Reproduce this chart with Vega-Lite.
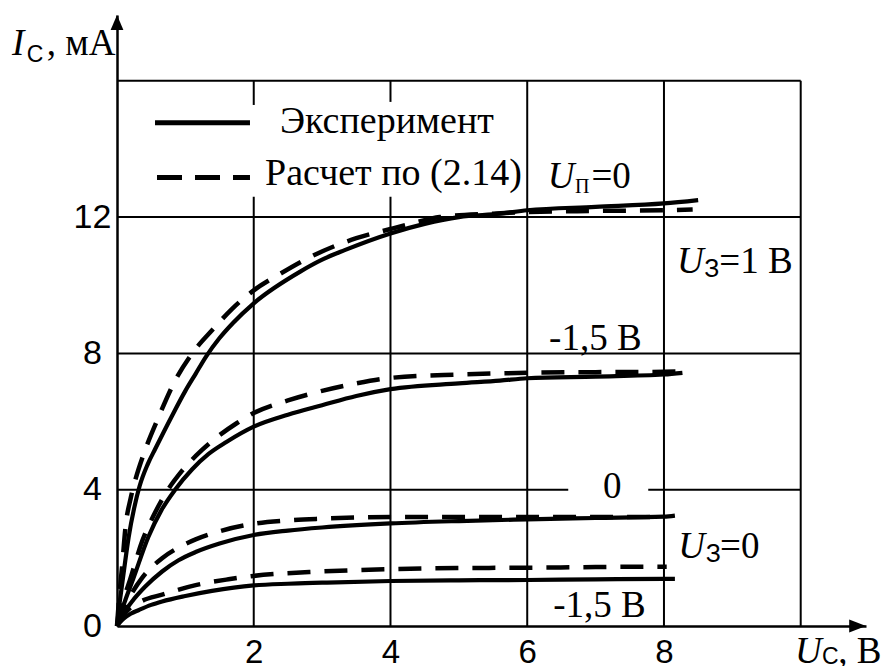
{
  "$schema": "https://vega.github.io/schema/vega-lite/v6.json",
  "width": 749,
  "height": 611,
  "autosize": {"type": "none"},
  "padding": {"left": 117, "top": 15, "right": 15, "bottom": 40},
  "background": "white",
  "config": {"view": {"stroke": null}},
  "datasets": {
    "grid": [
      {"x": 2, "y": 16, "x2": 2, "y2": 15.29},
      {"x": 2, "y": 12.6, "x2": 2, "y2": 0},
      {"x": 4, "y": 16, "x2": 4, "y2": 15.38},
      {"x": 4, "y": 12.6, "x2": 4, "y2": 0},
      {"x": 6, "y": 16, "x2": 6, "y2": 0},
      {"x": 8, "y": 16, "x2": 8, "y2": 0},
      {"x": 10, "y": 16, "x2": 10, "y2": 0},
      {"x": 0, "y": 16, "x2": 10, "y2": 16},
      {"x": 0, "y": 12, "x2": 10, "y2": 12},
      {"x": 0, "y": 8, "x2": 10, "y2": 8},
      {"x": 0, "y": 4, "x2": 6.6, "y2": 4},
      {"x": 7.77, "y": 4, "x2": 10, "y2": 4}
    ],
    "curves": [
      {"curve": "exp_1", "kind": "exp", "x": 0, "y": 0},
      {"curve": "exp_1", "kind": "exp", "x": 0.03, "y": 0.55},
      {"curve": "exp_1", "kind": "exp", "x": 0.07, "y": 1.15},
      {"curve": "exp_1", "kind": "exp", "x": 0.12, "y": 1.9},
      {"curve": "exp_1", "kind": "exp", "x": 0.17, "y": 2.6},
      {"curve": "exp_1", "kind": "exp", "x": 0.25, "y": 3.45},
      {"curve": "exp_1", "kind": "exp", "x": 0.33, "y": 4.1},
      {"curve": "exp_1", "kind": "exp", "x": 0.45, "y": 4.75},
      {"curve": "exp_1", "kind": "exp", "x": 0.56, "y": 5.2},
      {"curve": "exp_1", "kind": "exp", "x": 0.8, "y": 6.15},
      {"curve": "exp_1", "kind": "exp", "x": 1.0, "y": 6.9},
      {"curve": "exp_1", "kind": "exp", "x": 1.15, "y": 7.4},
      {"curve": "exp_1", "kind": "exp", "x": 1.3, "y": 7.9},
      {"curve": "exp_1", "kind": "exp", "x": 1.5, "y": 8.45},
      {"curve": "exp_1", "kind": "exp", "x": 1.7, "y": 8.9},
      {"curve": "exp_1", "kind": "exp", "x": 2.0, "y": 9.47},
      {"curve": "exp_1", "kind": "exp", "x": 2.68, "y": 10.4},
      {"curve": "exp_1", "kind": "exp", "x": 3.0, "y": 10.75},
      {"curve": "exp_1", "kind": "exp", "x": 3.33, "y": 11.03},
      {"curve": "exp_1", "kind": "exp", "x": 4.0, "y": 11.52},
      {"curve": "exp_1", "kind": "exp", "x": 4.5, "y": 11.8},
      {"curve": "exp_1", "kind": "exp", "x": 5.0, "y": 12.0},
      {"curve": "exp_1", "kind": "exp", "x": 5.6, "y": 12.1},
      {"curve": "exp_1", "kind": "exp", "x": 6.0, "y": 12.2},
      {"curve": "exp_1", "kind": "exp", "x": 7.0, "y": 12.3},
      {"curve": "exp_1", "kind": "exp", "x": 8.0, "y": 12.4},
      {"curve": "exp_1", "kind": "exp", "x": 8.5, "y": 12.5},

      {"curve": "calc_1", "kind": "calc", "x": 0, "y": 0},
      {"curve": "calc_1", "kind": "calc", "x": 0.03, "y": 0.8},
      {"curve": "calc_1", "kind": "calc", "x": 0.07, "y": 1.65},
      {"curve": "calc_1", "kind": "calc", "x": 0.13, "y": 3.0},
      {"curve": "calc_1", "kind": "calc", "x": 0.2, "y": 3.75},
      {"curve": "calc_1", "kind": "calc", "x": 0.27, "y": 4.3},
      {"curve": "calc_1", "kind": "calc", "x": 0.4, "y": 5.1},
      {"curve": "calc_1", "kind": "calc", "x": 0.61, "y": 6.14},
      {"curve": "calc_1", "kind": "calc", "x": 0.85, "y": 7.2},
      {"curve": "calc_1", "kind": "calc", "x": 1.1, "y": 8.0},
      {"curve": "calc_1", "kind": "calc", "x": 1.4, "y": 8.7},
      {"curve": "calc_1", "kind": "calc", "x": 1.68, "y": 9.3},
      {"curve": "calc_1", "kind": "calc", "x": 2.0, "y": 9.85},
      {"curve": "calc_1", "kind": "calc", "x": 2.4, "y": 10.35},
      {"curve": "calc_1", "kind": "calc", "x": 2.82, "y": 10.82},
      {"curve": "calc_1", "kind": "calc", "x": 3.5, "y": 11.38},
      {"curve": "calc_1", "kind": "calc", "x": 4.0, "y": 11.65},
      {"curve": "calc_1", "kind": "calc", "x": 4.33, "y": 11.82},
      {"curve": "calc_1", "kind": "calc", "x": 4.72, "y": 12.0},
      {"curve": "calc_1", "kind": "calc", "x": 5.5, "y": 12.1},
      {"curve": "calc_1", "kind": "calc", "x": 6.0, "y": 12.15},
      {"curve": "calc_1", "kind": "calc", "x": 7.0, "y": 12.18},
      {"curve": "calc_1", "kind": "calc", "x": 8.0, "y": 12.2},
      {"curve": "calc_1", "kind": "calc", "x": 8.42, "y": 12.22},

      {"curve": "exp_2", "kind": "exp", "x": 0, "y": 0},
      {"curve": "exp_2", "kind": "exp", "x": 0.05, "y": 0.35},
      {"curve": "exp_2", "kind": "exp", "x": 0.12, "y": 0.75},
      {"curve": "exp_2", "kind": "exp", "x": 0.24, "y": 1.4},
      {"curve": "exp_2", "kind": "exp", "x": 0.46, "y": 2.62},
      {"curve": "exp_2", "kind": "exp", "x": 0.65, "y": 3.4},
      {"curve": "exp_2", "kind": "exp", "x": 0.85, "y": 4.0},
      {"curve": "exp_2", "kind": "exp", "x": 1.1, "y": 4.6},
      {"curve": "exp_2", "kind": "exp", "x": 1.34, "y": 5.05},
      {"curve": "exp_2", "kind": "exp", "x": 1.6, "y": 5.4},
      {"curve": "exp_2", "kind": "exp", "x": 2.0, "y": 5.85},
      {"curve": "exp_2", "kind": "exp", "x": 2.5, "y": 6.2},
      {"curve": "exp_2", "kind": "exp", "x": 3.0, "y": 6.48},
      {"curve": "exp_2", "kind": "exp", "x": 3.5, "y": 6.75},
      {"curve": "exp_2", "kind": "exp", "x": 4.0, "y": 6.95},
      {"curve": "exp_2", "kind": "exp", "x": 5.0, "y": 7.12},
      {"curve": "exp_2", "kind": "exp", "x": 5.6, "y": 7.2},
      {"curve": "exp_2", "kind": "exp", "x": 6.0, "y": 7.27},
      {"curve": "exp_2", "kind": "exp", "x": 7.0, "y": 7.32},
      {"curve": "exp_2", "kind": "exp", "x": 8.0, "y": 7.38},
      {"curve": "exp_2", "kind": "exp", "x": 8.27, "y": 7.43},

      {"curve": "calc_2", "kind": "calc", "x": 0, "y": 0},
      {"curve": "calc_2", "kind": "calc", "x": 0.05, "y": 0.4},
      {"curve": "calc_2", "kind": "calc", "x": 0.1, "y": 0.8},
      {"curve": "calc_2", "kind": "calc", "x": 0.19, "y": 1.35},
      {"curve": "calc_2", "kind": "calc", "x": 0.37, "y": 2.5},
      {"curve": "calc_2", "kind": "calc", "x": 0.55, "y": 3.3},
      {"curve": "calc_2", "kind": "calc", "x": 0.73, "y": 3.95},
      {"curve": "calc_2", "kind": "calc", "x": 0.95, "y": 4.55},
      {"curve": "calc_2", "kind": "calc", "x": 1.24, "y": 5.16},
      {"curve": "calc_2", "kind": "calc", "x": 1.5, "y": 5.6},
      {"curve": "calc_2", "kind": "calc", "x": 1.75, "y": 5.95},
      {"curve": "calc_2", "kind": "calc", "x": 2.0, "y": 6.25},
      {"curve": "calc_2", "kind": "calc", "x": 2.5, "y": 6.62},
      {"curve": "calc_2", "kind": "calc", "x": 3.0, "y": 6.9},
      {"curve": "calc_2", "kind": "calc", "x": 3.5, "y": 7.12},
      {"curve": "calc_2", "kind": "calc", "x": 4.0, "y": 7.28},
      {"curve": "calc_2", "kind": "calc", "x": 5.0, "y": 7.38},
      {"curve": "calc_2", "kind": "calc", "x": 6.0, "y": 7.43},
      {"curve": "calc_2", "kind": "calc", "x": 7.0, "y": 7.45},
      {"curve": "calc_2", "kind": "calc", "x": 8.0, "y": 7.46},
      {"curve": "calc_2", "kind": "calc", "x": 8.27, "y": 7.47},

      {"curve": "exp_3", "kind": "exp", "x": 0, "y": 0},
      {"curve": "exp_3", "kind": "exp", "x": 0.04, "y": 0.17},
      {"curve": "exp_3", "kind": "exp", "x": 0.1, "y": 0.38},
      {"curve": "exp_3", "kind": "exp", "x": 0.22, "y": 0.72},
      {"curve": "exp_3", "kind": "exp", "x": 0.41, "y": 1.15},
      {"curve": "exp_3", "kind": "exp", "x": 0.66, "y": 1.6},
      {"curve": "exp_3", "kind": "exp", "x": 0.9, "y": 1.93},
      {"curve": "exp_3", "kind": "exp", "x": 1.15, "y": 2.17},
      {"curve": "exp_3", "kind": "exp", "x": 1.5, "y": 2.42},
      {"curve": "exp_3", "kind": "exp", "x": 2.0, "y": 2.67},
      {"curve": "exp_3", "kind": "exp", "x": 2.5, "y": 2.8},
      {"curve": "exp_3", "kind": "exp", "x": 3.0, "y": 2.89},
      {"curve": "exp_3", "kind": "exp", "x": 4.0, "y": 3.01},
      {"curve": "exp_3", "kind": "exp", "x": 5.0, "y": 3.08},
      {"curve": "exp_3", "kind": "exp", "x": 6.0, "y": 3.13},
      {"curve": "exp_3", "kind": "exp", "x": 7.0, "y": 3.17},
      {"curve": "exp_3", "kind": "exp", "x": 8.0, "y": 3.21},
      {"curve": "exp_3", "kind": "exp", "x": 8.16, "y": 3.24},

      {"curve": "calc_3", "kind": "calc", "x": 0, "y": 0},
      {"curve": "calc_3", "kind": "calc", "x": 0.04, "y": 0.22},
      {"curve": "calc_3", "kind": "calc", "x": 0.1, "y": 0.5},
      {"curve": "calc_3", "kind": "calc", "x": 0.2, "y": 0.9},
      {"curve": "calc_3", "kind": "calc", "x": 0.37, "y": 1.42},
      {"curve": "calc_3", "kind": "calc", "x": 0.66, "y": 1.99},
      {"curve": "calc_3", "kind": "calc", "x": 0.9, "y": 2.3},
      {"curve": "calc_3", "kind": "calc", "x": 1.15, "y": 2.54},
      {"curve": "calc_3", "kind": "calc", "x": 1.5, "y": 2.78},
      {"curve": "calc_3", "kind": "calc", "x": 2.0, "y": 3.0},
      {"curve": "calc_3", "kind": "calc", "x": 2.5, "y": 3.1},
      {"curve": "calc_3", "kind": "calc", "x": 3.0, "y": 3.15},
      {"curve": "calc_3", "kind": "calc", "x": 4.0, "y": 3.2},
      {"curve": "calc_3", "kind": "calc", "x": 5.0, "y": 3.2},
      {"curve": "calc_3", "kind": "calc", "x": 6.0, "y": 3.2},
      {"curve": "calc_3", "kind": "calc", "x": 7.0, "y": 3.2},
      {"curve": "calc_3", "kind": "calc", "x": 8.0, "y": 3.2},

      {"curve": "exp_4", "kind": "exp", "x": 0, "y": 0},
      {"curve": "exp_4", "kind": "exp", "x": 0.05, "y": 0.12},
      {"curve": "exp_4", "kind": "exp", "x": 0.1, "y": 0.22},
      {"curve": "exp_4", "kind": "exp", "x": 0.2, "y": 0.36},
      {"curve": "exp_4", "kind": "exp", "x": 0.32, "y": 0.47},
      {"curve": "exp_4", "kind": "exp", "x": 0.5, "y": 0.62},
      {"curve": "exp_4", "kind": "exp", "x": 0.66, "y": 0.72},
      {"curve": "exp_4", "kind": "exp", "x": 1.0, "y": 0.88},
      {"curve": "exp_4", "kind": "exp", "x": 1.39, "y": 1.03},
      {"curve": "exp_4", "kind": "exp", "x": 2.0, "y": 1.19},
      {"curve": "exp_4", "kind": "exp", "x": 2.5, "y": 1.24},
      {"curve": "exp_4", "kind": "exp", "x": 3.0, "y": 1.27},
      {"curve": "exp_4", "kind": "exp", "x": 4.0, "y": 1.32},
      {"curve": "exp_4", "kind": "exp", "x": 5.0, "y": 1.34},
      {"curve": "exp_4", "kind": "exp", "x": 6.0, "y": 1.35},
      {"curve": "exp_4", "kind": "exp", "x": 7.0, "y": 1.37},
      {"curve": "exp_4", "kind": "exp", "x": 8.0, "y": 1.38},
      {"curve": "exp_4", "kind": "exp", "x": 8.16, "y": 1.38},

      {"curve": "calc_4", "kind": "calc", "x": 0, "y": 0},
      {"curve": "calc_4", "kind": "calc", "x": 0.05, "y": 0.2},
      {"curve": "calc_4", "kind": "calc", "x": 0.15, "y": 0.45},
      {"curve": "calc_4", "kind": "calc", "x": 0.35, "y": 0.72},
      {"curve": "calc_4", "kind": "calc", "x": 0.66, "y": 0.92},
      {"curve": "calc_4", "kind": "calc", "x": 1.15, "y": 1.2},
      {"curve": "calc_4", "kind": "calc", "x": 1.63, "y": 1.37},
      {"curve": "calc_4", "kind": "calc", "x": 2.0, "y": 1.47},
      {"curve": "calc_4", "kind": "calc", "x": 3.0, "y": 1.6},
      {"curve": "calc_4", "kind": "calc", "x": 4.0, "y": 1.67},
      {"curve": "calc_4", "kind": "calc", "x": 5.0, "y": 1.7},
      {"curve": "calc_4", "kind": "calc", "x": 6.0, "y": 1.71},
      {"curve": "calc_4", "kind": "calc", "x": 7.0, "y": 1.73},
      {"curve": "calc_4", "kind": "calc", "x": 8.0, "y": 1.74},
      {"curve": "calc_4", "kind": "calc", "x": 8.04, "y": 1.74}
    ],
    "legend": [
      {"kind": "exp", "x": 0.556, "x2": 1.945, "y": 14.77},
      {"kind": "calc", "x": 0.585, "x2": 1.945, "y": 13.16}
    ],
    "legend_text": [
      {"x": 2.384, "y": 14.47, "text": "Эксперимент"},
      {"x": 2.165, "y": 12.94, "text": "Расчет по (2.14)"}
    ],
    "labels": [
      {"x": 6.94, "y": 12.84, "text": "=0"},
      {"x": 8.81, "y": 10.35, "text": "=1 В"},
      {"x": 6.32, "y": 8.1, "text": "-1,5 В"},
      {"x": 7.108, "y": 3.76, "text": "0"},
      {"x": 8.82, "y": 1.99, "text": "=0"},
      {"x": 6.38, "y": 0.26, "text": "-1,5 В"},
      {"x": -1.028, "y": 16.75, "text": ", мА"},
      {"x": 10.55, "y": -1.086, "text": ", В"}
    ],
    "symbols": [
      {"x": 6.3, "y": 12.84, "text": "U"},
      {"x": 8.19, "y": 10.35, "text": "U"},
      {"x": 8.21, "y": 1.99, "text": "U"},
      {"x": 9.917, "y": -1.086, "text": "U"},
      {"x": -1.536, "y": 16.75, "text": "I"}
    ],
    "subscripts": [
      {"x": 6.7, "y": 12.71, "text": "П"},
      {"x": 8.59, "y": 10.23, "text": "З"},
      {"x": 8.61, "y": 1.887, "text": "З"},
      {"x": -1.32, "y": 16.56, "text": "С"},
      {"x": 10.31, "y": -1.115, "text": "С"}
    ],
    "arrow_y": [{"x": 0, "y": 17.93}],
    "arrow_x": [{"x": 10.955, "y": 0}]
  },
  "encoding": {
    "x": {
      "field": "x",
      "type": "quantitative",
      "scale": {"domain": [0, 10.955], "nice": false, "zero": false},
      "axis": {
        "values": [2, 4, 6, 8],
        "ticks": false,
        "tickSize": 0,
        "grid": false,
        "title": null,
        "domainColor": "black",
        "domainWidth": 2.5,
        "labelFont": "Liberation Sans",
        "labelFontSize": 33,
        "labelColor": "black",
        "labelPadding": 10,
        "labelAngle": 0,
        "labelFlush": false,
        "labelOverlap": false
      }
    },
    "y": {
      "field": "y",
      "type": "quantitative",
      "scale": {"domain": [0, 17.93], "nice": false, "zero": false},
      "axis": {
        "values": [0, 4, 8, 12],
        "ticks": false,
        "tickSize": 0,
        "grid": false,
        "title": null,
        "domainColor": "black",
        "domainWidth": 2.5,
        "labelFont": "Liberation Sans",
        "labelFontSize": 34,
        "labelColor": "black",
        "labelPadding": 25,
        "labelAlign": "center",
        "labelFlush": false,
        "labelOverlap": false
      }
    }
  },
  "layer": [
    {
      "data": {"name": "grid"},
      "mark": {"type": "rule", "color": "black", "strokeWidth": 2},
      "encoding": {"x2": {"field": "x2"}, "y2": {"field": "y2"}}
    },
    {
      "data": {"name": "curves"},
      "transform": [{"filter": "datum.kind === 'exp'"}],
      "mark": {"type": "line", "color": "black", "strokeWidth": 4.2, "interpolate": "monotone"},
      "encoding": {"detail": {"field": "curve"}}
    },
    {
      "data": {"name": "curves"},
      "transform": [{"filter": "datum.kind === 'calc'"}],
      "mark": {"type": "line", "color": "black", "strokeWidth": 4.5, "strokeDash": [23, 14], "interpolate": "monotone"},
      "encoding": {"detail": {"field": "curve"}}
    },
    {
      "data": {"name": "legend"},
      "transform": [{"filter": "datum.kind === 'exp'"}],
      "mark": {"type": "rule", "color": "black", "strokeWidth": 5},
      "encoding": {"x2": {"field": "x2"}}
    },
    {
      "data": {"name": "legend"},
      "transform": [{"filter": "datum.kind === 'calc'"}],
      "mark": {"type": "rule", "color": "black", "strokeWidth": 5, "strokeDash": [25, 13]},
      "encoding": {"x2": {"field": "x2"}}
    },
    {
      "data": {"name": "legend_text"},
      "mark": {"type": "text", "font": "Liberation Serif", "fontSize": 38, "color": "black", "align": "left", "baseline": "alphabetic"},
      "encoding": {"text": {"field": "text"}}
    },
    {
      "data": {"name": "labels"},
      "mark": {"type": "text", "font": "Liberation Serif", "fontSize": 37, "color": "black", "align": "left", "baseline": "alphabetic"},
      "encoding": {"text": {"field": "text"}}
    },
    {
      "data": {"name": "symbols"},
      "mark": {"type": "text", "font": "Liberation Serif", "fontSize": 37, "fontStyle": "italic", "color": "black", "align": "left", "baseline": "alphabetic"},
      "encoding": {"text": {"field": "text"}}
    },
    {
      "data": {"name": "subscripts"},
      "transform": [{"filter": "datum.text === 'П'"}],
      "mark": {"type": "text", "font": "Liberation Serif", "fontSize": 20, "color": "black", "align": "left", "baseline": "alphabetic"},
      "encoding": {"text": {"field": "text"}}
    },
    {
      "data": {"name": "subscripts"},
      "transform": [{"filter": "datum.text === 'З'"}],
      "mark": {"type": "text", "font": "Liberation Sans", "fontSize": 25, "color": "black", "align": "left", "baseline": "alphabetic"},
      "encoding": {"text": {"field": "text"}}
    },
    {
      "data": {"name": "subscripts"},
      "transform": [{"filter": "datum.text === 'С'"}],
      "mark": {"type": "text", "font": "Liberation Sans", "fontSize": 23, "color": "black", "align": "left", "baseline": "alphabetic"},
      "encoding": {"text": {"field": "text"}}
    },
    {
      "data": {"name": "arrow_y"},
      "mark": {"type": "point", "shape": "M0,0L1.6,3.75L-1.6,3.75Z", "size": 64, "filled": true, "color": "black", "opacity": 1, "strokeWidth": 0}
    },
    {
      "data": {"name": "arrow_x"},
      "mark": {"type": "point", "shape": "M0,0L-4.2,-1.6L-4.2,1.6Z", "size": 64, "filled": true, "color": "black", "opacity": 1, "strokeWidth": 0}
    }
  ]
}
